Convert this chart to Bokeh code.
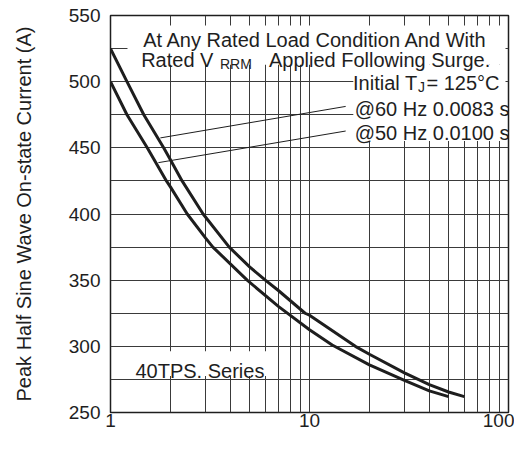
from bokeh.plotting import figure
from bokeh.models import Range1d, FixedTicker, Label, BoxAnnotation
from bokeh.embed import file_html
from bokeh.resources import INLINE

# ---- data ----
upper_x = [1, 1.21, 1.47, 1.85, 2, 2.29, 2.92, 3.95, 5, 6, 7, 9.5, 10, 17, 20, 30, 40, 50, 60]
upper_y = [525, 500, 475, 450, 441, 425, 400, 375, 360, 350, 342, 325, 323.5, 300, 294, 280, 271, 265.5, 262]

lower_x = [1, 1.21, 1.53, 1.91, 2, 2.43, 3, 3.27, 4.86, 7, 10, 13, 20, 30, 40, 50]
lower_y = [500, 475, 450, 425, 420.5, 400, 382, 375, 350, 330, 312.5, 301, 286, 274.3, 266.3, 262]

# pointer lines from the legend texts to the curves
ptr_x0 = [1.78, 1.74]
ptr_y0 = [457.5, 438.8]
ptr_x1 = [15.2, 15.2]
ptr_y1 = [481.3, 462.7]

x_ticks = [1, 10, 100]
x_tick_labels = ["1", "10", "100"]
x_minor = [2, 3, 4, 5, 6, 7, 8, 9, 20, 30, 40, 50, 60, 70, 80, 90]
y_ticks = [250, 300, 350, 400, 450, 500, 550]
y_tick_labels = ["250", "300", "350", "400", "450", "500", "550"]
y_minor = [275, 325, 375, 425, 475, 525]

FONT = "Liberation Sans"
INK = "#1e1e1e"

p = figure(width=514, height=434, x_axis_type="log",
           x_range=Range1d(1, 100), y_range=Range1d(250, 550),
           output_backend="svg", toolbar_location=None,
           min_border_left=110, min_border_right=6,
           min_border_top=15, min_border_bottom=22)
p.background_fill_color = "white"
p.border_fill_color = "white"
p.outline_line_color = INK
p.outline_line_width = 1.5

xt = FixedTicker(ticks=x_ticks, minor_ticks=x_minor)
yt = FixedTicker(ticks=y_ticks, minor_ticks=y_minor)
p.xaxis.ticker = xt
p.xgrid.ticker = xt
p.yaxis.ticker = yt
p.ygrid.ticker = yt
p.xaxis.major_label_overrides = {t: l for t, l in zip(x_ticks, x_tick_labels)}
p.yaxis.major_label_overrides = {t: l for t, l in zip(y_ticks, y_tick_labels)}

for ax in (p.xaxis[0], p.yaxis[0]):
    ax.axis_line_color = None
    ax.major_tick_line_color = None
    ax.minor_tick_line_color = None
    ax.major_tick_out = 0
    ax.major_tick_in = 0
    ax.minor_tick_out = 0
    ax.minor_tick_in = 0
    ax.major_label_text_font = FONT
    ax.major_label_text_font_size = "19px"
    ax.major_label_text_color = INK
p.xaxis.major_label_standoff = 1
p.yaxis.major_label_standoff = 10

p.yaxis.axis_label = "Peak Half Sine Wave On-state Current (A)"
p.yaxis.axis_label_text_font = FONT
p.yaxis.axis_label_text_font_size = "20px"
p.yaxis.axis_label_text_font_style = "normal"
p.yaxis.axis_label_text_color = INK
p.yaxis.axis_label_standoff = 31

for g in (p.xgrid[0], p.ygrid[0]):
    g.grid_line_color = "#3a3a3a"
    g.grid_line_width = 1
    g.minor_grid_line_color = "#3a3a3a"
    g.minor_grid_line_width = 1

p.line(upper_x, upper_y, line_width=3, color=INK, line_join="round")
p.line(lower_x, lower_y, line_width=3, color=INK, line_join="round")
p.segment(x0=ptr_x0, y0=ptr_y0, x1=ptr_x1, y1=ptr_y1, line_width=1, color=INK)

# white boxes behind the texts
for l, r, b, t in [(1.217, 96.6, 512.7, 542.5),
                   (16.6, 96.6, 455.2, 512.7),
                   (1.19, 6.37, 277.6, 296.3)]:
    p.add_layout(BoxAnnotation(left=l, right=r, bottom=b, top=t,
                               fill_color="white", fill_alpha=1.0,
                               line_color=None))


def lab(x, y, text, align="left", size="20px"):
    p.add_layout(Label(x=x, y=y, text=text, text_font=FONT,
                       text_font_size=size, text_align=align,
                       text_baseline="alphabetic", text_color=INK))


lab(10.72, 531.3, "At Any Rated Load Condition And With", "center")
lab(3.29, 516.4, "Rated V", "right")
lab(3.55, 513.4, "RRM", "left", "14px")
lab(22.5, 516.4, "Applied Following Surge.", "center")
lab(34.9, 499.0, "Initial T", "right")
lab(35.1, 496.3, "J", "left", "14px")
lab(38.7, 499.0, "= 125°C", "left")
lab(41.3, 479.1, "@60 Hz 0.0083 s", "center")
lab(41.3, 461.0, "@50 Hz 0.0100 s", "center")
lab(1.335, 281.3, "40TPS. Series", "left")

open("out.html", "w").write(file_html(p, INLINE))
